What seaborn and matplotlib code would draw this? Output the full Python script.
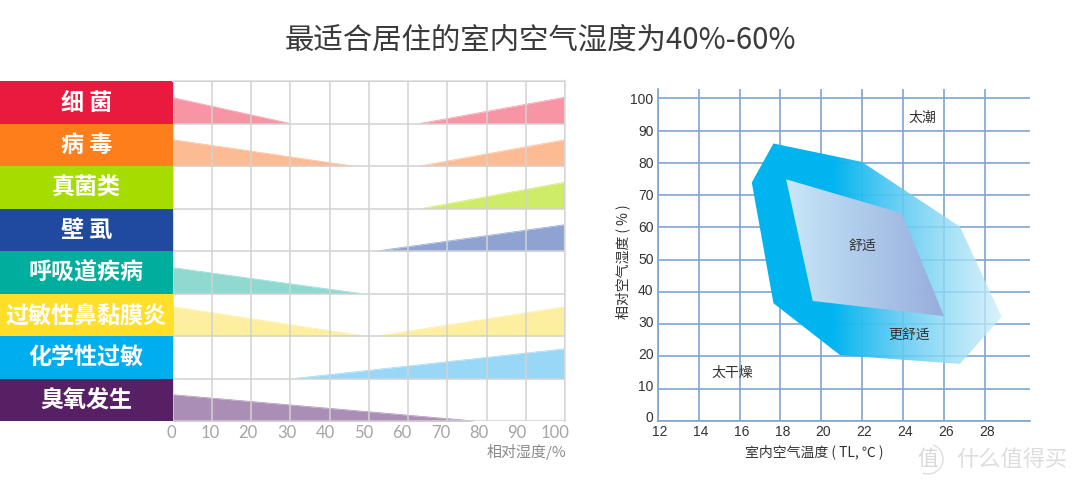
import matplotlib
matplotlib.use("Agg")
import matplotlib.pyplot as plt
from matplotlib.patches import Arc, Polygon
import numpy as np
import pandas as pd
import seaborn as sns

# left panel
categories = ["细 菌", "病 毒", "真菌类", "壁 虱", "呼吸道疾病", "过敏性鼻黏膜炎", "化学性过敏", "臭氧发生"]
label_colors = ["#EA1A3F", "#FD7E1A", "#A6DC00", "#1F4AA0", "#00AE9D", "#FFDF2A", "#00AEEF", "#572064"]
wedge_colors = ["#F795A5", "#FDBB93", "#CFEC68", "#8FA3D2", "#8FD9D0", "#FEEE9F", "#99D7F7", "#AB8EB5"]
# where the risk reaches zero going up from 0% and going down from 100% (None = no wedge)
left_end = [30, 46, None, None, 48, 49, None, 77]
right_start = [63, 63, 63.5, 52, None, 52, 31, None]
left_height = [0.61, 0.62, 0, 0, 0.61, 0.69, 0, 0.62]
right_height = [0.62, 0.62, 0.62, 0.62, 0, 0.69, 0.70, 0]
humidity_ticks = [0, 10, 20, 30, 40, 50, 60, 70, 80, 90, 100]

# right panel
temp_ticks = [12, 14, 16, 18, 20, 22, 24, 26, 28]
rh_ticks = [0, 10, 20, 30, 40, 50, 60, 70, 80, 90, 100]
outer_temp = [17.66, 21.98, 26.78, 28.82, 26.78, 20.92, 17.66, 16.6]
outer_rh = [86.0, 80.3, 60.2, 32.3, 17.7, 20.4, 36.5, 73.9]
inner_temp = [18.28, 23.93, 26.0, 19.58]
inner_rh = [74.9, 64.4, 32.5, 37.2]
zone_names = ["太潮", "舒适", "更舒适", "太干燥"]
zone_temp = [24.95, 22.0, 24.3, 15.67]
zone_rh = [94.0, 54.2, 26.6, 15.0]

sns.set_theme(style="white")
plt.rcParams["font.family"] = ["Noto Sans CJK SC", "DejaVu Sans"]

W, H = 1080, 484
fig = plt.figure(figsize=(W / 100, H / 100), dpi=100, facecolor="white")


def px_axes(x0, y0, x1, y1):
    return fig.add_axes([x0 / W, 1 - y1 / H, (x1 - x0) / W, (y1 - y0) / H])


def px_text(x, y, s, **kw):
    fig.text(x / W, 1 - y / H, s, ha=kw.pop("ha", "center"), va="center", **kw)


def gradient_fill(ax, poly_x, poly_y, stops_x, colors, alphas, extent):
    xs = np.linspace(extent[0], extent[1], 300)
    rgb = np.array([matplotlib.colors.to_rgb(c) for c in colors])
    img = np.zeros((1, 300, 4))
    for i in range(3):
        img[0, :, i] = np.interp(xs, stops_x, rgb[:, i])
    img[0, :, 3] = np.interp(xs, stops_x, alphas)
    im = ax.imshow(img, extent=extent, aspect="auto", origin="lower", zorder=2, interpolation="bilinear")
    patch = Polygon(np.column_stack([poly_x, poly_y]), closed=True, transform=ax.transData, fc="none", ec="none")
    ax.add_patch(patch)
    im.set_clip_path(patch)


px_text(540, 40, "最适合居住的室内空气湿度为40%-60%", fontsize=21.2, color="#3a3a3a")

# coloured name blocks
ax_lab = px_axes(0, 81, 172.5, 421)
df_lab = pd.DataFrame({"name": categories, "v": [1] * len(categories)})
sns.barplot(data=df_lab, x="v", y="name", hue="name", palette=label_colors, width=1.0,
            legend=False, ax=ax_lab, saturation=1, linewidth=0)
ax_lab.set_xlim(0, 1)
ax_lab.set_ylim(len(categories) - 0.5, -0.5)
ax_lab.axis("off")
for i, name in enumerate(categories):
    ax_lab.text(0.5, i + 0.02, name, ha="center", va="center", color="white", fontsize=16.6, fontweight="bold")

# risk wedges
ax_l = px_axes(172.5, 81, 565, 421)
for i in range(len(categories)):
    base = i + 1
    parts = []
    if left_end[i] is not None:
        parts.append(([0, left_end[i]], [left_height[i], 0]))
    if right_start[i] is not None:
        parts.append(([right_start[i], 100], [0, right_height[i]]))
    for xs, hs in parts:
        tops = [base - h for h in hs]
        ax_l.fill_between(xs, tops, [base, base], color=wedge_colors[i], lw=0, zorder=1)
        sns.lineplot(x=xs, y=tops, color=wedge_colors[i], lw=0.5, ax=ax_l, zorder=1, errorbar=None)
ax_l.set_xlim(0, 100)
ax_l.set_ylim(len(categories), 0)
ax_l.set_xticks(humidity_ticks)
ax_l.set_yticks(range(len(categories) + 1))
ax_l.grid(True, color="#D2D2D2", lw=1.1, zorder=3)
ax_l.set_axisbelow(False)
ax_l.tick_params(left=False, bottom=False, labelleft=False, labelbottom=False)
for side, sp in ax_l.spines.items():
    sp.set_visible(side in ("top", "right"))
    sp.set_color("#E2E2E2")
    sp.set_linewidth(1.5)
# the printed numbers sit on a slightly tighter spacing than the grid
for v in humidity_ticks:
    ha_x = 171.5 + v * 3.84
    px_text(ha_x, 433, str(v), fontsize=12, color="#a5a5a5", family="Lato")
px_text(566, 452, "相对湿度/%", fontsize=10.8, color="#8a8a8a", ha="right")

# comfort chart
ax_r = px_axes(657.7, 89.3, 1030, 421)
ax_r.set_xticks(temp_ticks)
ax_r.set_yticks(rh_ticks)
ax_r.grid(True, color="#7FA5D0", lw=1.2, zorder=1)
ax_r.set_axisbelow(True)
extent = [16, 30, 0, 100]
gradient_fill(ax_r, outer_temp, outer_rh, [16, 20.5, 24, 29],
              ["#00B4EF", "#00B4EF", "#62CCF3", "#D2EFFA"], [1.0, 1.0, 0.9, 0.75], extent)
gradient_fill(ax_r, inner_temp, inner_rh, [18, 26],
              ["#DCEEFA", "#96A9DB"], [0.93, 0.93], extent)
ax_r.set_xlim(12, 12 + (1030 - 657.7) / 20.45)
ax_r.set_ylim(0, 100 * (421 - 89.3) / (421 - 98.3))
for name, t, r in zip(zone_names, zone_temp, zone_rh):
    ax_r.text(t, r, name, ha="center", va="center", fontsize=10, color="#333333", zorder=4)
ax_r.tick_params(left=False, bottom=False, labelleft=False, labelbottom=False)
for side, sp in ax_r.spines.items():
    sp.set_visible(side in ("left", "bottom"))
    sp.set_color("#7FA5D0")
    sp.set_linewidth(1.2)
for t in temp_ticks:
    px_text(659.5 + (t - 12) * 20.45, 432.5, str(t), fontsize=10, color="#333333", family="Liberation Sans")
for r in rh_ticks:
    px_text(653.5, 418.5 - r * 3.18, str(r), fontsize=10, color="#333333", family="Liberation Sans", ha="right")
px_text(814, 452, "室内空气温度 ( TL, ℃ )", fontsize=10, color="#333333")
px_text(623, 262, "相对空气湿度 ( % )", fontsize=10, color="#333333", rotation=90)

# watermark
px_text(928, 459, "值", fontsize=15, color="#D8D8D8")
px_text(1012, 459, "什么值得买", fontsize=16, color="#DDDDDD")
ax_bg = fig.add_axes([0, 0, 1, 1], zorder=-1)
ax_bg.set_xlim(0, W)
ax_bg.set_ylim(H, 0)
ax_bg.axis("off")
ax_bg.add_patch(Arc((928, 459), 30, 30, theta1=-70, theta2=110, color="#DDDDDD", lw=1))

fig.savefig("out.png", dpi=100)
